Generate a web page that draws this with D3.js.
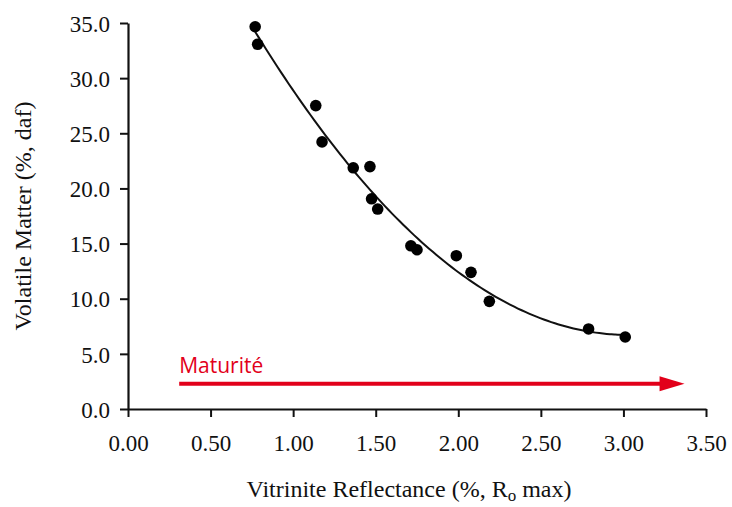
<!DOCTYPE html>
<html>
<head>
<meta charset="utf-8">
<script src="https://cdn.jsdelivr.net/npm/d3@7"></script>
<style>
  html, body { margin: 0; padding: 0; background: #fff; }
  svg { display: block; }
  .tick text { font-family: "Liberation Serif", "Times New Roman", serif; font-size: 23px; fill: #111; }
</style>
</head>
<body>
<script>
// Data
const reflectance = [0.77, 0.785, 1.137, 1.175, 1.364, 1.465, 1.475, 1.512, 1.713, 1.750, 1.988, 2.077, 2.188, 2.789, 3.011];
const volatileMatter = [34.66, 33.07, 27.51, 24.22, 21.87, 21.98, 19.06, 18.13, 14.80, 14.44, 13.90, 12.39, 9.76, 7.26, 6.53];
const xTicks = [0, 0.5, 1, 1.5, 2, 2.5, 3, 3.5];
const yTicks = [0, 5, 10, 15, 20, 25, 30, 35];
const arrowLabel = "Maturité";
const arrowFrom = [0.31, 2.3];
const arrowTo = [3.37, 2.3];

const W = 732, H = 507;
const margin = { left: 128, right: 26, top: 23, bottom: 98 };

const svg = d3.select("body").append("svg").attr("width", W).attr("height", H);

const x = d3.scaleLinear().domain([0, 3.5]).range([margin.left, W - margin.right]);
const y = d3.scaleLinear().domain([0, 35]).range([H - margin.bottom, margin.top]);

// Quadratic least-squares trend through the points
function quadFit(xs, ys) {
  let S = [0,0,0,0,0], T = [0,0,0];
  xs.forEach((xi, i) => {
    let p = 1;
    for (let k = 0; k < 5; k++) { S[k] += p; if (k < 3) T[k] += p * ys[i]; p *= xi; }
  });
  const A = [[S[0],S[1],S[2],T[0]],[S[1],S[2],S[3],T[1]],[S[2],S[3],S[4],T[2]]];
  for (let i = 0; i < 3; i++) {
    for (let j = i + 1; j < 3; j++) {
      const f = A[j][i] / A[i][i];
      for (let k = i; k < 4; k++) A[j][k] -= f * A[i][k];
    }
  }
  const c = [0,0,0];
  for (let i = 2; i >= 0; i--) {
    let s = A[i][3];
    for (let k = i + 1; k < 3; k++) s -= A[i][k] * c[k];
    c[i] = s / A[i][i];
  }
  return c;
}
const coef = quadFit(reflectance, volatileMatter);
const x0 = d3.min(reflectance), x1 = d3.max(reflectance);
const curvePts = d3.range(0, 101).map(i => {
  const xv = x0 + (x1 - x0) * i / 100;
  return [xv, coef[0] + coef[1] * xv + coef[2] * xv * xv];
});

// Axes
const xAxis = d3.axisBottom(x).tickValues(xTicks).tickFormat(d3.format(".2f")).tickSize(8).tickSizeOuter(0).tickPadding(12);
const yAxis = d3.axisLeft(y).tickValues(yTicks).tickFormat(d3.format(".1f")).tickSize(8).tickSizeOuter(0).tickPadding(10);

const gx = svg.append("g").attr("transform", `translate(0,${y(0)})`).call(xAxis);
const gy = svg.append("g").attr("transform", `translate(${x(0)},0)`).call(yAxis);
[gx, gy].forEach(g => {
  g.select(".domain").attr("stroke", "#111").attr("stroke-width", 2.2);
  g.selectAll(".tick line").attr("stroke", "#111").attr("stroke-width", 2);
});
gx.selectAll(".tick text").attr("dy", "0.95em");
gy.selectAll(".tick text").attr("dy", "0.36em");

// Trend curve
svg.append("path")
  .datum(curvePts)
  .attr("fill", "none")
  .attr("stroke", "#111")
  .attr("stroke-width", 2)
  .attr("d", d3.line().x(d => x(d[0])).y(d => y(d[1])).curve(d3.curveBasis));

// Points
svg.append("g").selectAll("circle")
  .data(reflectance.map((r, i) => [r, volatileMatter[i]]))
  .join("circle")
  .attr("cx", d => x(d[0]))
  .attr("cy", d => y(d[1]))
  .attr("r", 5.8)
  .attr("fill", "#000");

// Maturity arrow
const red = "#e2001a";
const ax0 = x(arrowFrom[0]), ay = y(arrowFrom[1]), ax1 = x(arrowTo[0]);
svg.append("line")
  .attr("x1", ax0).attr("y1", ay).attr("x2", ax1 - 22).attr("y2", ay)
  .attr("stroke", red).attr("stroke-width", 4);
svg.append("path")
  .attr("d", `M${ax1},${ay} L${ax1 - 25},${ay - 7.5} L${ax1 - 25},${ay + 7.5} Z`)
  .attr("fill", red);
svg.append("text")
  .attr("x", ax0).attr("y", ay - 11)
  .attr("font-family", "'Open Sans', 'Noto Sans', sans-serif")
  .attr("font-size", 21)
  .attr("fill", red)
  .text(arrowLabel);

// Axis titles
const xt = svg.append("text")
  .attr("x", 409).attr("y", 497)
  .attr("text-anchor", "middle")
  .attr("font-family", "'Liberation Serif', 'Times New Roman', serif")
  .attr("font-size", 24)
  .attr("fill", "#111");
xt.append("tspan").text("Vitrinite Reflectance (%, R");
xt.append("tspan").attr("font-size", 17).attr("dy", 4).text("o");
xt.append("tspan").attr("dy", -4).text(" max)");

svg.append("text")
  .attr("transform", "translate(31,216) rotate(-90)")
  .attr("text-anchor", "middle")
  .attr("font-family", "'Liberation Serif', 'Times New Roman', serif")
  .attr("font-size", 24)
  .attr("fill", "#111")
  .text("Volatile Matter (%, daf)");
</script>
</body>
</html>
